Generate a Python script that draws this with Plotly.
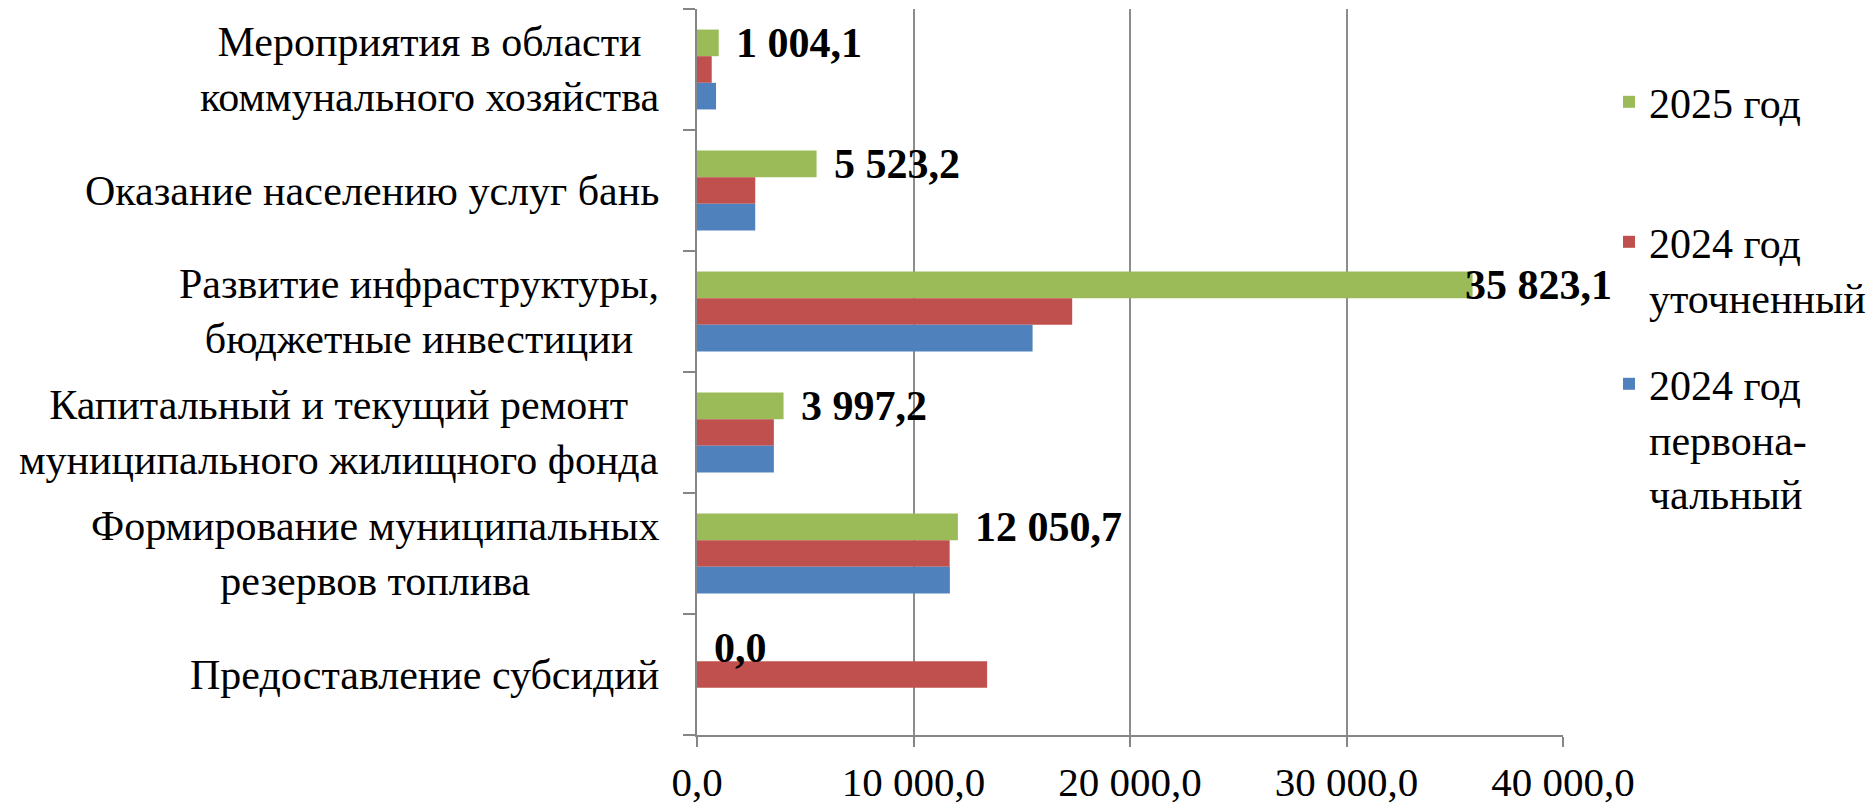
import plotly.graph_objects as go

categories = [
    "Мероприятия в области<br>коммунального хозяйства",
    "Оказание населению услуг бань",
    "Развитие инфраструктуры,<br>бюджетные инвестиции",
    "Капитальный и текущий ремонт<br>муниципального жилищного фонда",
    "Формирование муниципальных<br>резервов топлива",
    "Предоставление субсидий",
]
series_names = ["2025 год", "2024 год<br>уточненный", "2024 год<br>первона-<br>чальный"]
v2025 = [1004.1, 5523.2, 35823.1, 3997.2, 12050.7, 0.0]
v2024_utoch = [680.0, 2690.0, 17330.0, 3550.0, 11670.0, 13400.0]
v2024_perv = [880.0, 2690.0, 15500.0, 3550.0, 11680.0, 0.0]
x_ticks = [0, 10000, 20000, 30000, 40000]

colors = ["#9BBB59", "#C0504D", "#4F81BD"]
FONT = "Liberation Serif, Times New Roman, serif"
FS = 42
BARGAP = 0.34
XMAX = 40000

fig = go.Figure()
legends = ["legend", "legend2", "legend3"]
for name, vals, col, lg in zip(series_names, [v2025, v2024_utoch, v2024_perv], colors, legends):
    fig.add_trace(go.Bar(
        y=list(range(len(categories))), x=vals, name=name, orientation="h",
        marker=dict(color=col, line=dict(width=0)), legend=lg,
        hoverinfo="x+name", showlegend=True,
    ))

def fmt(v):
    return f"{v:,.1f}".replace(",", " ").replace(".", ",")

annotations = []
# category labels (centered multi-line)
for i, c in enumerate(categories):
    annotations.append(dict(
        xref="paper", yref="y", x=0, y=i, xanchor="right", yanchor="middle",
        xshift=-36, text=c, align="center", showarrow=False,
        font=dict(family=FONT, size=FS, color="black"),
    ))
# data labels on the 2025 series
for i, v in enumerate(v2025):
    near_end = v > 0.85 * XMAX
    annotations.append(dict(
        xref="x", yref="y", x=v, y=i - (1 - BARGAP) / 3,
        xanchor="left", yanchor="middle", xshift=(-10 if near_end else 15),
        text=fmt(v), showarrow=False,
        font=dict(family=FONT, size=FS, color="black", weight="bold"),
    ))

leg_common = dict(
    xref="container", yref="container", xanchor="left", yanchor="top",
    x=1609 / 1875, font=dict(family=FONT, size=FS, color="black"),
    bgcolor="rgba(0,0,0,0)", borderwidth=0, valign="top",
)

fig.update_layout(
    width=1875, height=804,
    margin=dict(l=697, r=312, t=9, b=69, pad=0, autoexpand=False),
    paper_bgcolor="white", plot_bgcolor="white",
    barmode="group", bargap=BARGAP, bargroupgap=0,
    separators=", ",
    showlegend=True,
    font=dict(family=FONT, size=FS, color="black"),
    annotations=annotations,
    legend=dict(**leg_common, y=1 - 68 / 804),
    legend2=dict(**leg_common, y=1 - 208 / 804),
    legend3=dict(**leg_common, y=1 - 350 / 804),
    xaxis=dict(
        range=[0, XMAX], tickvals=x_ticks, tickformat=",.1f",
        showgrid=True, gridcolor="#8C8C8C", gridwidth=2,
        showline=True, linecolor="#868686", linewidth=2,
        ticks="outside", ticklen=10, tickwidth=2, tickcolor="#868686",
        zeroline=False, ticklabelstandoff=0,
        tickfont=dict(family=FONT, size=41, color="black"),
        fixedrange=True,
    ),
    yaxis=dict(
        type="linear", range=[len(categories) - 0.5, -0.5],
        tickvals=[i - 0.5 for i in range(len(categories) + 1)],
        showticklabels=False, showgrid=False, zeroline=False,
        showline=True, linecolor="#868686", linewidth=2,
        ticks="outside", ticklen=12, tickwidth=2, tickcolor="#868686",
        fixedrange=True,
    ),
)

fig.write_html("out.html", config={"displayModeBar": False},
               post_script="document.body.style.margin='0';")
